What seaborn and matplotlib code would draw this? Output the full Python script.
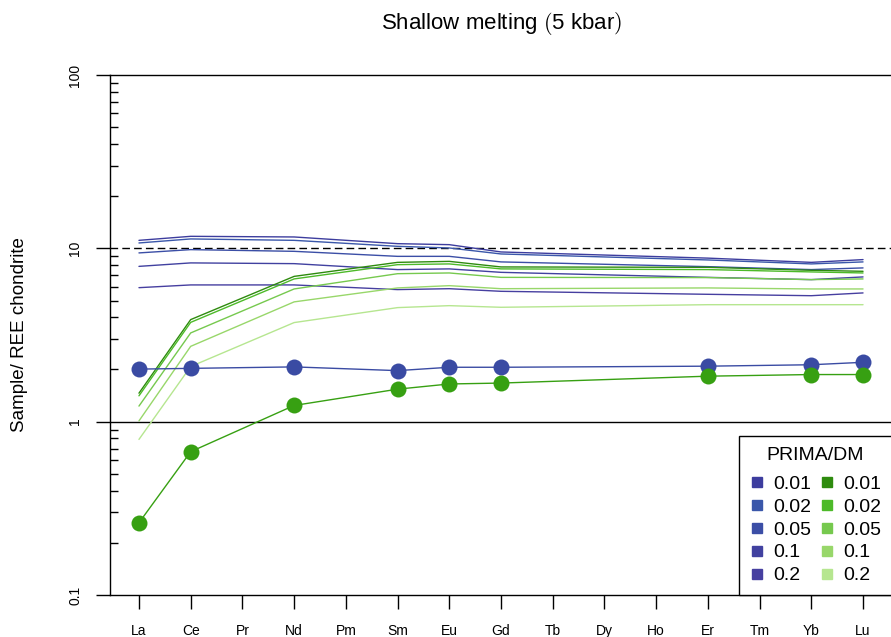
import numpy as np
import pandas as pd
import matplotlib
matplotlib.use("Agg")
import matplotlib.pyplot as plt
from matplotlib.lines import Line2D
from matplotlib.ticker import FixedLocator, LogLocator, NullFormatter
import seaborn as sns

# REE order along the x axis
elements = ["La", "Ce", "Pr", "Nd", "Pm", "Sm", "Eu", "Gd", "Tb", "Dy", "Ho", "Er", "Tm", "Yb", "Lu"]
# elements that carry values
used = ["La", "Ce", "Nd", "Sm", "Eu", "Gd", "Er", "Yb", "Lu"]

mix_labels = ["0.01", "0.02", "0.05", "0.1", "0.2"]

# model melts, chondrite-normalised (blue source family)
blue_001 = [11.12, 11.73, 11.63, 10.64, 10.50, 9.53, 8.78, 8.30, 8.61]
blue_002 = [10.74, 11.33, 11.12, 10.27, 10.05, 9.28, 8.57, 8.13, 8.35]
blue_005 = [9.41, 9.83, 9.61, 8.99, 8.99, 8.35, 7.84, 7.54, 7.71]
blue_01 = [7.87, 8.24, 8.16, 7.54, 7.61, 7.27, 6.80, 6.60, 6.84]
blue_02 = [5.93, 6.15, 6.15, 5.78, 5.85, 5.65, 5.43, 5.33, 5.53]

# model melts (green source family)
green_001 = [1.46, 3.88, 6.89, 8.30, 8.41, 7.81, 7.77, 7.47, 7.37]
green_002 = [1.41, 3.74, 6.66, 8.05, 8.13, 7.61, 7.54, 7.31, 7.21]
green_005 = [1.23, 3.25, 5.83, 7.14, 7.21, 6.80, 6.78, 6.60, 6.66]
green_01 = [1.01, 2.72, 4.91, 5.91, 6.09, 5.85, 5.91, 5.83, 5.83]
green_02 = [0.79, 2.08, 3.73, 4.55, 4.67, 4.57, 4.73, 4.73, 4.73]

# source compositions
source_blue = [2.01, 2.03, 2.07, 1.97, 2.06, 2.06, 2.09, 2.13, 2.20]
source_green = [0.261, 0.671, 1.24, 1.54, 1.65, 1.67, 1.83, 1.87, 1.87]

blue_cols = ["#3d3d9e", "#3a57aa", "#3b4ea6", "#4141a0", "#463fa0"]
green_cols = ["#2e8b0e", "#4dba29", "#76c94e", "#98d76a", "#b6e690"]

pos = [elements.index(e) for e in used]

model_rows = []
for fam, series in (
    ("B", [blue_001, blue_002, blue_005, blue_01, blue_02]),
    ("G", [green_001, green_002, green_005, green_01, green_02]),
):
    for lab, vals in zip(mix_labels, series):
        for p, v in zip(pos, vals):
            model_rows.append({"pos": p, "value": v, "series": f"{fam}{lab}"})
models = pd.DataFrame(model_rows)
model_palette = {f"B{l}": c for l, c in zip(mix_labels, blue_cols)}
model_palette.update({f"G{l}": c for l, c in zip(mix_labels, green_cols)})

src_rows = []
for name, vals in (("blue", source_blue), ("green", source_green)):
    for p, v in zip(pos, vals):
        src_rows.append({"pos": p, "value": v, "series": name})
sources = pd.DataFrame(src_rows)
src_palette = {"blue": "#3a4ba3", "green": "#37a012"}

sns.set_theme(style="white")
plt.rcParams["font.family"] = ["Liberation Sans", "DejaVu Sans"]
plt.rcParams["mathtext.fontset"] = "cm"
for key in ("text.color", "axes.labelcolor", "xtick.color", "ytick.color"):
    plt.rcParams[key] = "black"

fig = plt.figure(figsize=(8.91, 6.37), dpi=100)
ax = fig.add_axes([110 / 891, 42 / 637, 782 / 891, 520 / 637])

ax.set_yscale("log")
ax.set_ylim(0.1, 100)
ax.set_xlim(-0.56, 14.56)

ax.axhline(1, color="black", lw=1.0, zorder=1)
ax.axhline(10, color="black", lw=1.0, ls=(0, (5.5, 3)), zorder=1)

sns.lineplot(data=models, x="pos", y="value", hue="series", palette=model_palette,
             estimator=None, sort=False, legend=False, lw=1.0, ax=ax, zorder=2)
sns.lineplot(data=sources, x="pos", y="value", hue="series", palette=src_palette,
             estimator=None, sort=False, legend=False, lw=1.0, marker="o",
             markersize=11.5, markeredgewidth=0, ax=ax, zorder=3)

ax.set_xticks(range(len(elements)))
ax.set_xticklabels(elements)
ax.tick_params(axis="x", which="major", direction="out", length=10, width=1,
               pad=11, labelsize=10, color="black", bottom=True)

ax.yaxis.set_major_locator(FixedLocator([0.1, 1, 10, 100]))
ax.set_yticklabels(["0.1", "1", "10", "100"], rotation=90, va="center")
ax.yaxis.set_minor_locator(LogLocator(base=10, subs=np.arange(2, 10)))
ax.yaxis.set_minor_formatter(NullFormatter())
ax.tick_params(axis="y", which="major", direction="out", length=10, width=1,
               pad=10, labelsize=10, color="black", left=True)
ax.tick_params(axis="y", which="minor", direction="in", length=6, width=1,
               color="black", left=True)

for s in ax.spines.values():
    s.set_color("black")
    s.set_linewidth(1.0)

ax.set_xlabel("")
ax.set_ylabel("Sample/ REE chondrite", fontsize=13.5, labelpad=29)
ax.set_title(r"Shallow melting $($5 kbar$)$", fontsize=16, pad=33)

handles = [Line2D([], [], marker="s", ls="none", color=c, markersize=7.5) for c in blue_cols]
handles += [Line2D([], [], marker="s", ls="none", color=c, markersize=7.5) for c in green_cols]
leg = ax.legend(handles, mix_labels + mix_labels, ncol=2, title="PRIMA/DM",
                loc="lower right", bbox_to_anchor=(1, 0), frameon=True, fancybox=False,
                edgecolor="black", framealpha=1, fontsize=14, title_fontsize=14,
                handlelength=0.7, handletextpad=0.5, columnspacing=0.45,
                labelspacing=0.27, borderpad=0.55, borderaxespad=0)
leg.get_frame().set_linewidth(1.0)
leg._legend_box.sep = 8

fig.savefig("out.png", dpi=100)
